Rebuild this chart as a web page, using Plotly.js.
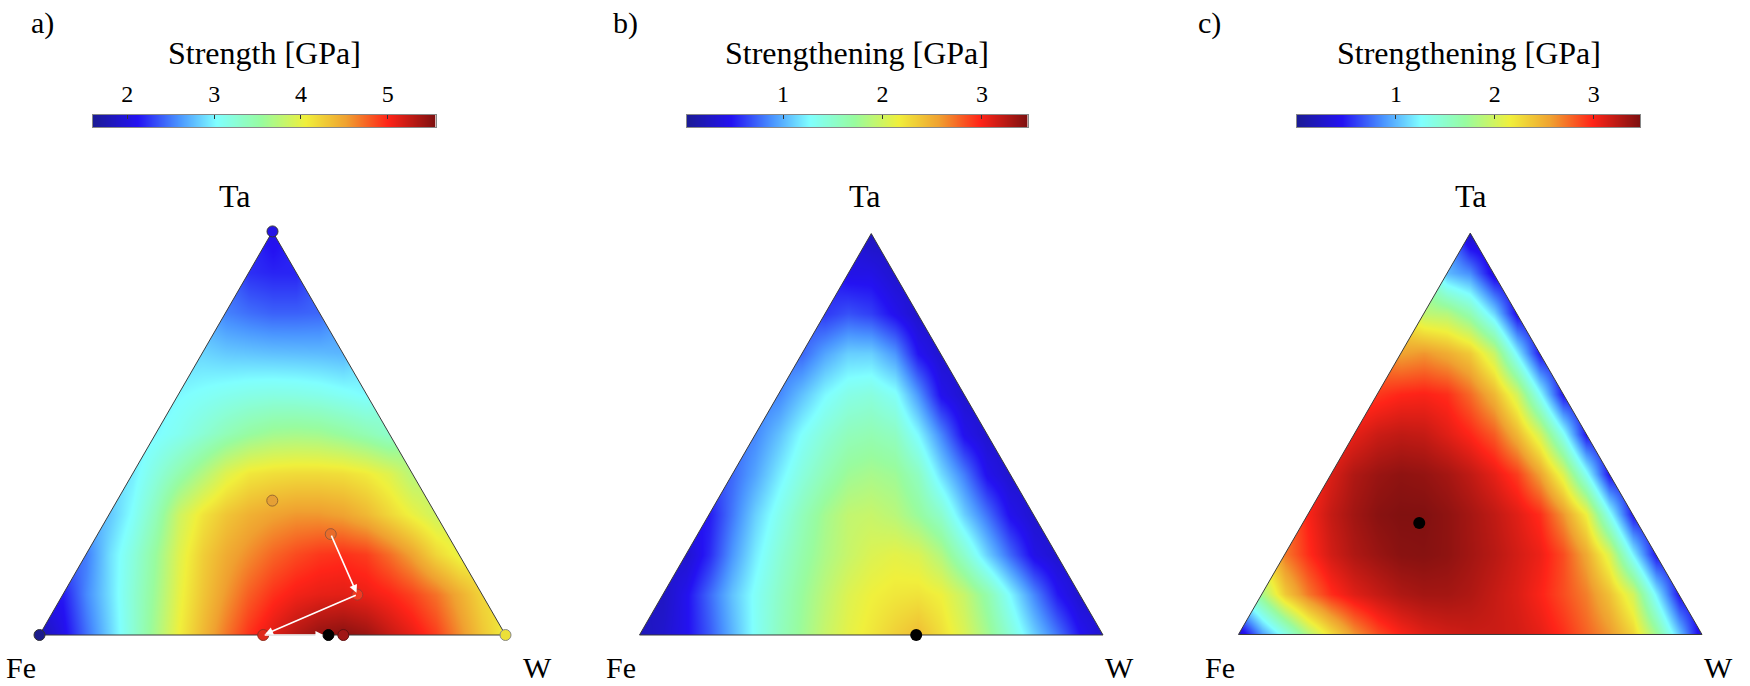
<!DOCTYPE html>
<html><head><meta charset="utf-8">
<script src="https://cdn.plot.ly/plotly-3.0.1.min.js"></script>
<style>html,body{margin:0;padding:0;background:#fff}#chart{width:1750px;height:686px}</style>
</head><body><div id="chart"></div>
<script>
const FONT = 'Liberation Serif, Times New Roman, serif';

// Cartesian column positions (fraction of the triangle base) and Ta fraction of each grid row
const xGrid = [0,0.05,0.1,0.15,0.2,0.25,0.3,0.35,0.4,0.45,0.5,0.55,0.6,0.65,0.7,0.75,0.8,0.85,0.9,0.95,1];
const taLevels = [0,0.1,0.2,0.3,0.4,0.5,0.6,0.7,0.8,0.9,1];

// a) Strength [GPa], row k = Ta fraction taLevels[k], values from the Fe-Ta edge to the W-Ta edge
const strengthA = [
  [1.75,2.05,2.45,2.85,3.25,3.65,4.05,4.38,4.68,4.95,5.15,5.32,5.45,5.5,5.42,5.25,5.1,4.9,4.6,4.3,4.05],
  [2.15,2.55,2.9,3.25,3.6,4.0,4.3,4.55,4.78,4.95,5.05,5.1,5.12,5.08,5.0,4.88,4.7,4.45,4.2],
  [2.5,2.9,3.2,3.55,3.95,4.25,4.45,4.6,4.75,4.85,4.92,4.95,4.9,4.72,4.5,4.2,4.0],
  [2.8,3.05,3.4,3.85,4.12,4.3,4.42,4.5,4.55,4.55,4.5,4.38,4.2,4.02,3.85],
  [2.95,3.2,3.45,3.7,3.95,4.1,4.15,4.17,4.17,4.15,4.08,3.95,3.72],
  [3.0,3.1,3.25,3.4,3.52,3.6,3.62,3.6,3.52,3.42,3.3],
  [3.0,3.05,3.1,3.14,3.16,3.15,3.12,3.06,3.0],
  [2.85,2.8,2.78,2.76,2.75,2.74,2.72],
  [2.52,2.45,2.4,2.4,2.42],
  [2.22,2.18,2.18],
  [2.05]
];
// b) Strengthening [GPa]
const strengtheningB = [
  [0.2,0.3,0.45,0.7,1.0,1.3,1.55,1.75,1.95,2.1,2.2,2.32,2.42,2.25,2.05,1.78,1.45,1.1,0.8,0.48,0.3],
  [0.25,0.45,0.75,1.05,1.3,1.52,1.72,1.9,2.06,2.15,2.2,2.22,2.15,1.95,1.65,1.25,0.85,0.5,0.3],
  [0.3,0.55,0.9,1.2,1.45,1.65,1.82,1.95,2.05,2.1,2.05,1.85,1.5,1.1,0.75,0.42,0.3],
  [0.5,0.8,1.1,1.35,1.58,1.78,1.92,1.95,1.88,1.72,1.5,1.1,0.78,0.45,0.3],
  [0.75,0.95,1.2,1.42,1.6,1.75,1.8,1.75,1.55,1.15,0.82,0.45,0.3],
  [0.85,1.05,1.28,1.45,1.58,1.62,1.55,1.25,0.85,0.45,0.3],
  [0.85,1.05,1.25,1.38,1.42,1.3,0.9,0.45,0.3],
  [0.75,0.95,1.1,1.1,0.9,0.48,0.3],
  [0.6,0.68,0.62,0.45,0.28],
  [0.42,0.42,0.3],
  [0.22]
];
// c) Strengthening [GPa]
const strengtheningC = [
  [0.25,0.9,1.35,1.85,2.25,2.6,2.85,3.0,3.1,3.15,3.18,3.18,3.15,3.08,2.95,2.78,2.6,2.3,1.75,1.05,0.3],
  [1.8,2.35,2.7,2.95,3.1,3.2,3.28,3.32,3.32,3.28,3.2,3.12,3.0,2.85,2.68,2.4,2.0,1.2,0.45],
  [2.7,2.95,3.15,3.28,3.36,3.42,3.43,3.4,3.33,3.25,3.15,3.05,2.85,2.52,2.05,1.2,0.45],
  [3.0,3.2,3.33,3.42,3.45,3.45,3.4,3.32,3.22,3.1,2.95,2.6,2.15,1.3,0.45],
  [3.12,3.28,3.36,3.4,3.38,3.32,3.22,3.08,2.9,2.55,2.05,1.3,0.45],
  [3.08,3.18,3.22,3.2,3.1,2.98,2.8,2.45,2.0,1.3,0.45],
  [2.92,2.98,3.0,2.95,2.75,2.45,2.0,1.25,0.45],
  [2.55,2.6,2.5,2.35,1.95,1.2,0.45],
  [1.9,1.85,1.6,1.1,0.4],
  [1.0,0.85,0.35],
  [0.2]
];

// colour bar ranges and ticks
const rangeA = [1.6, 5.55], ticksA = [2,3,4,5];
const rangeB = [0.03, 3.46], ticksB = [1,2,3];
const rangeC = [0.0, 3.47], ticksC = [1,2,3];

// compositions of the marked alloys (Ta and W fractions)
const ptsA_ta = [0, 1, 0, 0.333, 0.25, 0.1, 0, 0, 0];
const ptsA_w  = [0, 0, 1, 0.333, 0.5, 0.632, 0.48, 0.652, 0.62];
const ptsA_fill = ['#1c1c8c','#2414e6','#ece038','#e6a035','#e96c2a','#f03a22','#e02a1c','#a01616','#000000'];
const ptsA_line = ['#333','#333','#888','#9a6a30','#9a5a3a','#a03a30','#903020','#601010','#000'];
const ptB_ta = [0], ptB_w = [0.597];
const ptC_ta = [0.278], ptC_w = [0.251];
// arrows in panel a: [from index, to index] into the point lists
const arrowsA = [[4,5],[5,6],[6,8]];

const H = Math.sqrt(3)/2;
const P = 0.06; // padding around each triangle inside its plot area
const toX = (ta, w) => w + ta/2;
const toY = (ta) => ta*H;

const JET = [[0,'#1b1b96'],[0.13,'#2412f2'],[0.25,'#4a94ff'],[0.36,'#80ffff'],[0.49,'#98fca0'],
             [0.62,'#f0f03c'],[0.74,'#f0a030'],[0.86,'#ff2418'],[1,'#7c1010']];

function padRows(rows){
  return rows.map((vals,k)=>{const r=new Array(xGrid.length).fill(null); vals.forEach((v,j)=>{r[k+j]=v;}); return r;});
}
const yGrid = taLevels.map(toY);

const traces = [];
function mask(xs, ys, xa, ya){
  traces.push({type:'scatter', mode:'lines', x:xs, y:ys, fill:'toself', fillcolor:'#ffffff',
    line:{width:0,color:'#fff'}, xaxis:xa, yaxis:ya, hoverinfo:'skip', showlegend:false});
}
function panel(rows, range, xa, ya){
  traces.push({type:'heatmap', x:xGrid, y:yGrid, z:padRows(rows), zsmooth:'best', connectgaps:true,
    colorscale:JET, zmin:range[0], zmax:range[1], showscale:false, xaxis:xa, yaxis:ya, hoverinfo:'skip'});
  mask([-P,1+P,1+P,-P,-P],[-P,-P,0,0,-P], xa, ya);
  mask([-P,0,0,0.5,0.53,-P,-P],[-P,-P,0,H,H+P,H+P,-P], xa, ya);
  mask([1+P,1,1,0.5,0.47,1+P,1+P],[-P,-P,0,H,H+P,H+P,-P], xa, ya);
  traces.push({type:'scatter', mode:'lines', x:[0,1,0.5,0], y:[0,0,H,0], line:{color:'#3a3a3a',width:1},
    xaxis:xa, yaxis:ya, hoverinfo:'skip', showlegend:false});
}
panel(strengthA, rangeA, 'x', 'y');
panel(strengtheningB, rangeB, 'x2', 'y2');
panel(strengtheningC, rangeC, 'x3', 'y3');

traces.push({type:'scatter', mode:'markers', x:ptsA_ta.map((t,i)=>toX(t,ptsA_w[i])), y:ptsA_ta.map(toY),
  marker:{size:11, color:ptsA_fill, line:{color:ptsA_line,width:1}}, xaxis:'x', yaxis:'y', cliponaxis:false, showlegend:false, hoverinfo:'skip'});
traces.push({type:'scatter', mode:'markers', x:ptB_ta.map((t,i)=>toX(t,ptB_w[i])), y:ptB_ta.map(toY),
  marker:{size:12, color:'#000'}, xaxis:'x2', yaxis:'y2', cliponaxis:false, showlegend:false, hoverinfo:'skip'});
traces.push({type:'scatter', mode:'markers', x:ptC_ta.map((t,i)=>toX(t,ptC_w[i])), y:ptC_ta.map(toY),
  marker:{size:12, color:'#000'}, xaxis:'x3', yaxis:'y3', cliponaxis:false, showlegend:false, hoverinfo:'skip'});

// colour bars as small heat strips
[[rangeA,'x4','y4'],[rangeB,'x5','y5'],[rangeC,'x6','y6']].forEach(([r,xa,ya])=>{
  traces.push({type:'heatmap', x:r, y:[0,1], z:[r,r], zsmooth:'best', colorscale:JET, zmin:r[0], zmax:r[1],
    showscale:false, xaxis:xa, yaxis:ya, hoverinfo:'skip'});
});

const W = 1750, Hpx = 686;
const px = X => X/W, py = Y => 1 - Y/Hpx;
// triangle placement: Fe corner x (px), triangle width (px), base line y (px)
function triAxes(feX, wPx, baseY, n){
  const xa = {domain:[px(feX - P*wPx), px(feX + (1+P)*wPx)], range:[-P,1+P], visible:false, fixedrange:true, anchor:'y'+n};
  const ya = {domain:[py(baseY + P*wPx), py(baseY - (H+P)*wPx)], range:[-P,H+P], visible:false, fixedrange:true, anchor:'x'+n};
  return [xa, ya];
}
const [xa1, ya1] = triAxes(39.5, 466, 635, '');
const [xa2, ya2] = triAxes(639.5, 463.5, 635, '2');
const [xa3, ya3] = triAxes(1238.5, 463.5, 634.5, '3');

const cbY = [py(127), py(115)];
function cbX(x0,x1,range,ticks,ya){
  return {domain:[px(x0),px(x1)], anchor:ya, range:range, side:'top', tickvals:ticks, ticks:'inside', ticklen:4,
    tickwidth:1, tickcolor:'#333', showline:true, linecolor:'#888', linewidth:1, mirror:true, showgrid:false,
    zeroline:false, tickfont:{family:FONT,size:24,color:'#000'}, ticklabelstandoff:2, fixedrange:true};
}
function cbYax(xa){
  return {domain:cbY, anchor:xa, range:[0,1], showline:true, linecolor:'#888', linewidth:1, mirror:true,
    showticklabels:false, ticks:'', showgrid:false, zeroline:false, fixedrange:true};
}

const ann = [];
function txt(s, X, Y, size){ ann.push({text:s, x:px(X), y:py(Y), xref:'paper', yref:'paper', showarrow:false,
  xanchor:'center', yanchor:'middle', font:{family:FONT,size:size,color:'#000'}}); }
txt('a)', 42, 23, 30); txt('b)', 625, 23, 30); txt('c)', 1209, 23, 30);
txt('Strength [GPa]', 264, 53, 32);
txt('Strengthening [GPa]', 857, 53, 32);
txt('Strengthening [GPa]', 1468.5, 53, 32);
txt('Ta', 235, 196, 32); txt('Fe', 21, 667, 30); txt('W', 537, 667, 30);
txt('Ta', 865, 196, 32); txt('Fe', 621, 667, 30); txt('W', 1119, 667, 30);
txt('Ta', 1471, 196, 32); txt('Fe', 1220, 667, 30); txt('W', 1718, 667, 30);

arrowsA.forEach(([a,b],i)=>{
  ann.push({xref:'x', yref:'y', axref:'x', ayref:'y', text:'', showarrow:true,
    x:toX(ptsA_ta[b],ptsA_w[b]), y:toY(ptsA_ta[b]), ax:toX(ptsA_ta[a],ptsA_w[a]), ay:toY(ptsA_ta[a]),
    arrowhead:2, arrowsize:1, arrowwidth:1.6, arrowcolor:'#ffffff', standoff: i===2 ? 5 : 2});
});

const layout = {
  width:W, height:Hpx, margin:{l:0,r:0,t:0,b:0}, paper_bgcolor:'#fff', plot_bgcolor:'rgba(0,0,0,0)',
  showlegend:false,
  xaxis: xa1, yaxis: ya1, xaxis2: xa2, yaxis2: ya2, xaxis3: xa3, yaxis3: ya3,
  xaxis4: cbX(92.6,435.5,rangeA,ticksA,'y4'), yaxis4: cbYax('x4'),
  xaxis5: cbX(686.6,1027.7,rangeB,ticksB,'y5'), yaxis5: cbYax('x5'),
  xaxis6: cbX(1297,1640.3,rangeC,ticksC,'y6'), yaxis6: cbYax('x6'),
  annotations: ann
};

Plotly.newPlot('chart', traces, layout, {displayModeBar:false, staticPlot:true});
</script></body></html>
